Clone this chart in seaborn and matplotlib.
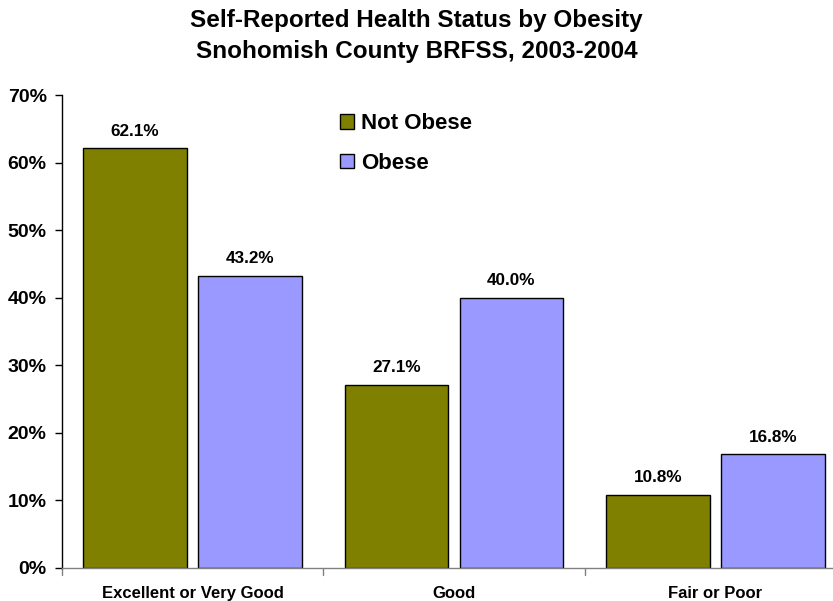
import matplotlib
matplotlib.use("Agg")
import matplotlib.pyplot as plt
import seaborn as sns
import pandas as pd

categories = ["Excellent or Very Good", "Good", "Fair or Poor"]
not_obese = [62.1, 27.1, 10.8]
obese = [43.2, 40.0, 16.8]
series_names = ["Not Obese", "Obese"]
y_ticks = [0, 10, 20, 30, 40, 50, 60, 70]
colors = ["#808000", "#9999FF"]

df = pd.DataFrame({
    "category": categories * 2,
    "value": not_obese + obese,
    "status": [series_names[0]] * 3 + [series_names[1]] * 3,
})

sns.set_style("white")
plt.rcParams["font.family"] = ["Liberation Sans", "DejaVu Sans"]
plt.rcParams["font.weight"] = "bold"
plt.rcParams["text.color"] = "black"
plt.rcParams["xtick.color"] = "black"
plt.rcParams["ytick.color"] = "black"
plt.rcParams["xtick.labelcolor"] = "black"
plt.rcParams["ytick.labelcolor"] = "black"

fig = plt.figure(figsize=(8.33, 6.01), dpi=100)
ax = fig.add_axes([62 / 833, 33 / 601, 784 / 833, 473 / 601])

sns.barplot(data=df, x="category", y="value", hue="status", order=categories,
            hue_order=series_names, palette=colors, edgecolor="black",
            linewidth=1.0, width=0.88, gap=0.096, saturation=1, ax=ax)

for cont in ax.containers:
    ax.bar_label(cont, fmt="%.1f%%", padding=7, fontsize=12.3, fontweight="bold",
                 color="black")

ax.set_ylim(0, 70)
ax.set_xlim(-0.5, 2.5)
ax.set_yticks(y_ticks)
ax.set_yticklabels([f"{t}%" for t in y_ticks], fontsize=14, fontweight="bold")
ax.tick_params(axis="y", direction="out", length=5, width=1, color="black", left=True, pad=6)

ax.set_xticks([0, 1, 2])
ax.set_xticklabels(categories, fontsize=12, fontweight="bold")
ax.tick_params(axis="x", length=0, pad=13)
for xb in [-0.5, 0.5, 1.5]:
    ax.plot([xb, xb], [0, -1.0], color="#808080", lw=1, clip_on=False)

ax.set_xlabel("")
ax.set_ylabel("")
for s in ["top", "right"]:
    ax.spines[s].set_visible(False)
ax.spines["left"].set_color("black")
ax.spines["left"].set_linewidth(1)
ax.spines["bottom"].set_color("#808080")
ax.spines["bottom"].set_linewidth(1)

handles, labels = ax.get_legend_handles_labels()
ax.legend(handles, labels, loc="upper left", bbox_to_anchor=(320 / 833, 1 - 93 / 601),
          bbox_transform=fig.transFigure, frameon=False,
          handlelength=0.65, handleheight=0.65, handletextpad=0.3, labelspacing=0.85,
          prop={"weight": "bold", "size": 16})

fig.text(0.5, 1 - 36 / 601, "Self-Reported Health Status by Obesity\nSnohomish County BRFSS, 2003-2004",
         ha="center", va="center", fontsize=17.5, fontweight="bold", linespacing=1.4)

fig.savefig("out.png", dpi=100)
